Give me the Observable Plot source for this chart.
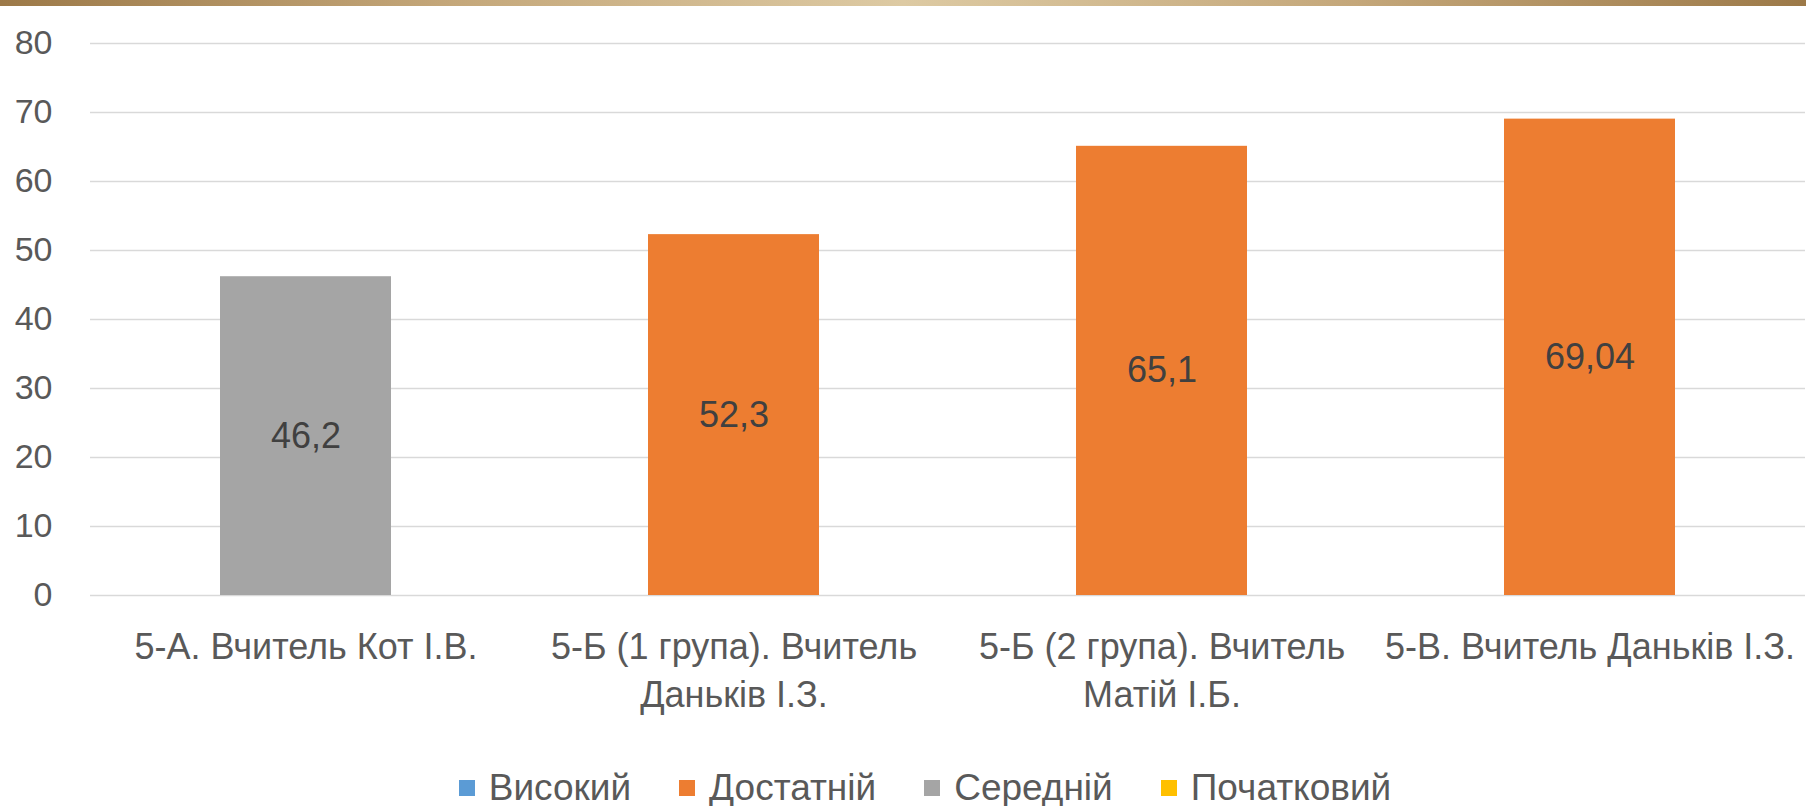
<!DOCTYPE html>
<html>
<head>
<meta charset="utf-8">
<script src="https://cdn.jsdelivr.net/npm/d3@7"></script>
<script src="https://cdn.jsdelivr.net/npm/@observablehq/plot@0.6"></script>
<style>
  html, body { margin: 0; padding: 0; background: #ffffff; width: 1806px; height: 806px; overflow: hidden; }
  body { position: relative; font-family: "Liberation Sans", sans-serif; }
  #topbar { position: absolute; left: 0; top: 0; width: 1806px; height: 6px;
    background: linear-gradient(to right, #9c7948 0%, #c4a77a 25%, #ddcaa3 50%, #c4a77a 75%, #9c7948 100%); }
  #chart { position: absolute; left: 0; top: 0; }
  #legend { position: absolute; left: 0; top: 768px; width: 1806px; height: 40px; display: flex; justify-content: center; align-items: center; padding-left: 44px; box-sizing: border-box; color: #595959; font-size: 37px; }
  .item { display: flex; align-items: center; margin: 0 24px; }
  .sw { width: 16px; height: 16px; margin-right: 14px; }
</style>
</head>
<body>
<div id="chart"></div>
<div id="topbar"></div>
<div id="legend"></div>
<script>
const categories = [
  "5-А. Вчитель Кот І.В.",
  "5-Б (1 група). Вчитель Даньків І.З.",
  "5-Б (2 група). Вчитель Матій І.Б.",
  "5-В. Вчитель Даньків І.З."
];
const tickLabels = [
  "5-А. Вчитель Кот І.В.",
  "5-Б (1 група). Вчитель\nДаньків І.З.",
  "5-Б (2 група). Вчитель\nМатій І.Б.",
  "5-В. Вчитель Даньків І.З."
];
const values = [46.2, 52.3, 65.1, 69.04];
const valueLabels = ["46,2", "52,3", "65,1", "69,04"];
const levels = ["Середній", "Достатній", "Достатній", "Достатній"];
const legendNames = ["Високий", "Достатній", "Середній", "Початковий"];
const legendColors = ["#5B9BD5", "#ED7D31", "#A5A5A5", "#FFC000"];
const yTicks = [0, 10, 20, 30, 40, 50, 60, 70, 80];

const data = categories.map((c, i) => ({cat: c, value: values[i], label: valueLabels[i], level: levels[i]}));
const tickMap = new Map(categories.map((c, i) => [c, tickLabels[i]]));

const chart = Plot.plot({
  width: 1806,
  height: 745,
  marginTop: 43,
  marginBottom: 150,
  marginLeft: 90,
  marginRight: 1,
  style: {fontFamily: '"Liberation Sans", sans-serif', background: "transparent"},
  x: {domain: categories, paddingInner: 0.6, paddingOuter: 0.3, label: null},
  y: {domain: [0, 80], label: null},
  color: {domain: legendNames, range: legendColors},
  marks: [
    Plot.ruleY(yTicks, {stroke: "#D9D9D9", strokeWidth: 1.5}),
    Plot.barY(data, {x: "cat", y: "value", fill: "level"}),
    Plot.text(data, {x: "cat", y: d => d.value / 2, text: "label", fill: "#404040", fontSize: 36}),
    Plot.axisY({ticks: yTicks, tickSize: 0, tickPadding: 38, fontSize: 34, color: "#595959", label: null}),
    Plot.axisX({tickSize: 0, tickPadding: 30, fontSize: 36, color: "#595959", lineHeight: 1.33, label: null,
      tickFormat: d => tickMap.get(d)})
  ]
});
document.getElementById("chart").appendChild(chart);

const legend = document.getElementById("legend");
legendNames.forEach((n, i) => {
  const it = document.createElement("div");
  it.className = "item";
  const sw = document.createElement("div");
  sw.className = "sw";
  sw.style.background = legendColors[i];
  const t = document.createElement("span");
  t.textContent = n;
  it.appendChild(sw); it.appendChild(t);
  legend.appendChild(it);
});
</script>
</body>
</html>
